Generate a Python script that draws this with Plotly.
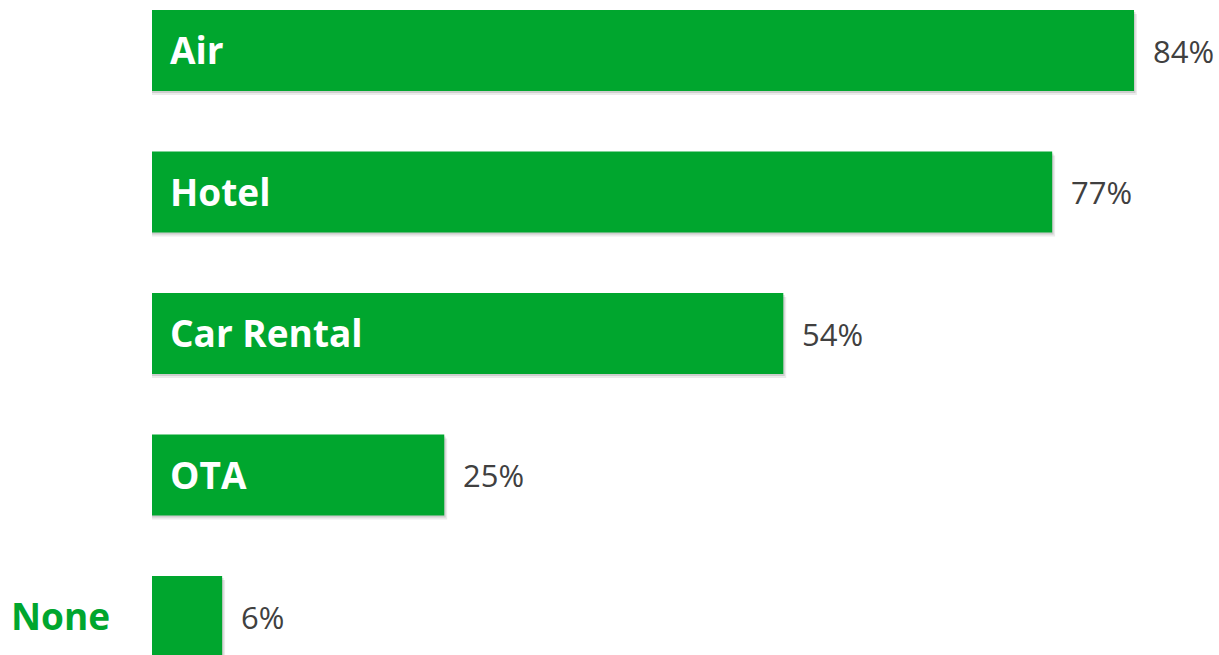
import plotly.graph_objects as go

# Share of respondents by booking category
categories = ["Air", "Hotel", "Car Rental", "OTA", "None"]
values = [84, 77, 54, 25, 6]
inside_label = [True, True, True, True, False]

GREEN = "#00A62E"
TEXT_GREY = "#404040"
BAR_W = 0.572

fig = go.Figure()

# soft drop shadow beneath each bar
fig.add_trace(go.Bar(
    y=categories, x=[v + 0.25 for v in values], orientation="h",
    width=BAR_W, offset=-BAR_W / 2 + 0.028,
    marker=dict(color="rgba(0,0,0,0.08)", line=dict(width=0)),
    hoverinfo="skip", showlegend=False,
))
fig.add_trace(go.Bar(
    y=categories, x=[v + 0.12 for v in values], orientation="h",
    width=BAR_W, offset=-BAR_W / 2 + 0.014,
    marker=dict(color="rgba(0,0,0,0.12)", line=dict(width=0)),
    hoverinfo="skip", showlegend=False,
))
# main bars
fig.add_trace(go.Bar(
    y=categories, x=values, orientation="h",
    width=BAR_W, offset=-BAR_W / 2,
    marker=dict(color=GREEN, line=dict(width=0)),
    showlegend=False,
))

annotations = []
for cat, val, inside in zip(categories, values, inside_label):
    if inside:
        annotations.append(dict(
            x=0, y=cat, xref="x", yref="y", text=f"<b>{cat}</b>",
            xanchor="left", yanchor="middle", xshift=16, yshift=1,
            showarrow=False,
            font=dict(family="Open Sans", size=37, color="white"),
        ))
    else:
        annotations.append(dict(
            x=0, y=cat, xref="x", yref="y", text=f"<b>{cat}</b>",
            xanchor="right", yanchor="middle", xshift=-40, yshift=1,
            showarrow=False,
            font=dict(family="Open Sans", size=37, color=GREEN),
        ))
    annotations.append(dict(
        x=val, y=cat, xref="x", yref="y", text=f"{val}%",
        xanchor="left", yanchor="middle", xshift=17, showarrow=False,
        font=dict(family="Open Sans", size=31, color=TEXT_GREY),
    ))

fig.update_layout(
    width=1219, height=655,
    margin=dict(l=152, r=0, t=0, b=0),
    paper_bgcolor="white", plot_bgcolor="white",
    barmode="overlay",
    annotations=annotations,
    xaxis=dict(range=[0, 91.27], showticklabels=False, showgrid=False,
               zeroline=False, showline=False, fixedrange=True),
    yaxis=dict(categoryorder="array", categoryarray=categories,
               range=[4.272, -0.357], showticklabels=False, showgrid=False,
               zeroline=False, showline=False, fixedrange=True),
)

fig.write_html("out.html")
